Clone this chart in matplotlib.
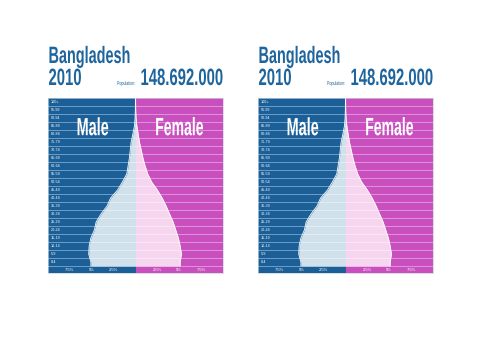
import matplotlib
matplotlib.use('Agg')
import matplotlib.pyplot as plt
import numpy as np
from matplotlib.patheffects import AbstractPathEffect
from matplotlib.transforms import Affine2D

# ---------------- data ----------------
age_groups = ['0-4', '5-9', '10-14', '15-19', '20-24', '25-29', '30-34', '35-39',
              '40-44', '45-49', '50-54', '55-59', '60-64', '65-69', '70-74',
              '75-79', '80-84', '85-89', '90-94', '95-99', '100+']
male_pct = [5.1, 5.35, 5.3, 5.1, 4.7, 4.5, 3.95, 3.25, 2.85, 2.05, 1.5, 1.0,
            0.85, 0.7, 0.6, 0.5, 0.3, 0.12, 0.05, 0.02, 0.01]
female_pct = [5.1, 5.25, 5.1, 4.9, 4.6, 4.3, 3.9, 3.5, 3.05, 2.5, 1.85, 1.4,
              1.1, 0.85, 0.65, 0.45, 0.3, 0.15, 0.06, 0.02, 0.01]
tick_values = [-7.5, -5, -2.5, 2.5, 5, 7.5]
tick_labels = ['7.5%', '5%', '2.5%', '2.5%', '5%', '7.5%']
country = 'Bangladesh'
year = '2010'
population_label = 'Population:'
population = '148.692.000'
panel_lefts_px = [48, 258]

BLUE = '#1a5f98'
PINK = '#c94fbf'
LIGHT_BLUE = '#d0e1ec'
LIGHT_PINK = '#f6d6ef'
TITLE = '#1f659d'
FONT = ['Liberation Sans', 'DejaVu Sans']

W, H = 500, 354


class Stretch(AbstractPathEffect):
    """Stretch a text's glyphs vertically around its anchor (baseline)."""
    def __init__(self, text, sy):
        super().__init__()
        self.text = text
        self.sy = sy

    def draw_path(self, renderer, gc, tpath, affine, rgbFace=None):
        y0 = self.text.get_transform().transform(self.text.get_position())[1]
        t = affine + Affine2D().translate(0, -y0).scale(1, self.sy).translate(0, y0)
        renderer.draw_path(gc, tpath, t, rgbFace)


def tall_text(t, sy):
    t.set_path_effects([Stretch(t, sy)])
    return t


def fx(px):
    return px / W


def fy(py):
    return 1 - py / H


fig = plt.figure(figsize=(W / 100, H / 100), dpi=100)
fig.patch.set_facecolor('white')

y_idx = np.arange(len(age_groups))
y_fill = np.concatenate([[-0.5], y_idx, [len(age_groups) - 0.5]])
male_fill = np.concatenate([[male_pct[0]], male_pct, [0]])
female_fill = np.concatenate([[female_pct[0]], female_pct, [0]])

for left in panel_lefts_px:
    ax = fig.add_axes([fx(left), fy(273), 175 / W, 175 / H])
    ax.set_xlim(-10, 10)
    ax.set_ylim(-1.375, len(age_groups) - 0.5)
    ax.axvspan(-10, 0, color=BLUE, zorder=0, lw=0)
    ax.axvspan(0, 10, color=PINK, zorder=0, lw=0)
    ax.fill_betweenx(y_fill, -male_fill, 0, color=LIGHT_BLUE, lw=0, zorder=1)
    ax.fill_betweenx(y_fill, 0, female_fill, color=LIGHT_PINK, lw=0, zorder=1)
    ax.plot(-male_fill, y_fill, color='white', lw=0.6, zorder=2)
    ax.plot(female_fill, y_fill, color='white', lw=0.6, zorder=2)
    for b in np.arange(-0.5, len(age_groups) - 1, 1.0):
        ax.axhline(b, color='white', alpha=0.45, lw=0.6, zorder=3)
    for i, lab in zip(y_idx, age_groups):
        ax.text(-9.7, i, lab, fontsize=2.7, color='white', va='center',
                ha='left', zorder=4, family=FONT)
    for v, lab in zip(tick_values, tick_labels):
        ax.text(v, -0.95, lab, fontsize=3, color='white', ha='center',
                va='center', zorder=4, family=FONT)
    ax.set_xticks([])
    ax.set_yticks([])
    for s in ax.spines.values():
        s.set_color('#c9d3dc')
        s.set_linewidth(0.5)

    tall_text(ax.text(-4.9, 15.85, 'Male', fontsize=10.4, color='white',
                      fontweight='bold', ha='center', va='baseline', zorder=5,
                      family=FONT), 1.72)
    tall_text(ax.text(5.0, 15.85, 'Female', fontsize=10.1, color='white',
                      fontweight='bold', ha='center', va='baseline', zorder=5,
                      family=FONT), 1.79)

    tall_text(fig.text(fx(left + 0.5), fy(63), country, fontsize=10.4, color=TITLE,
                       fontweight='bold', ha='left', va='baseline', family=FONT), 1.64)
    tall_text(fig.text(fx(left + 0.5), fy(85), year, fontsize=10.7, color=TITLE,
                       fontweight='bold', ha='left', va='baseline', family=FONT), 1.59)
    tall_text(fig.text(fx(left + 175), fy(85), population, fontsize=10.7, color=TITLE,
                       fontweight='bold', ha='right', va='baseline', family=FONT), 1.59)
    tall_text(fig.text(fx(left + 69), fy(85), population_label, fontsize=2.6, color=TITLE,
                       ha='left', va='baseline', family=FONT), 1.54)

fig.savefig('out.png', dpi=100, facecolor='white')
